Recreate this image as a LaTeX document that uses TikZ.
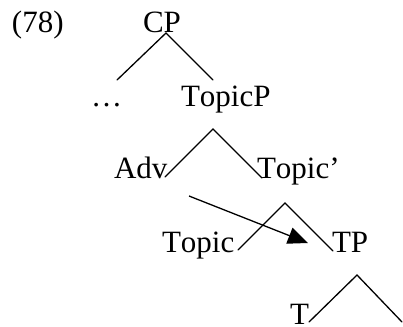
\documentclass[tikz,border=0pt]{standalone}
\usepackage{fontspec}
\setmainfont[Kerning=Off]{Liberation Serif}
\usetikzlibrary{arrows.meta}
\begin{document}
\begin{tikzpicture}[x=1pt,y=-1pt,
  lbl/.style={anchor=base west,inner sep=0pt,outer sep=0pt,font=\fontsize{31}{37}\selectfont},
  branch/.style={line width=1.3pt,line cap=round,line join=miter},
  mv/.style={line width=1.3pt,-{Triangle[length=20pt,width=17pt]}}]
\useasboundingbox (0,0) rectangle (403,326);
% labels
\node[lbl] (ex) at (12,33) {(78)};
\node[lbl] (cp) at (143,33) {CP};
\node[lbl] (dots) at (91,106) {…};
\node[lbl] (topicp) at (181,106) {TopicP};
\node[lbl] (adv) at (114,178) {Adv};
\node[lbl] (topicbar) at (257,178) {Topic’};
\node[lbl] (topic) at (162,252) {Topic};
\node[lbl] (tp) at (332,252) {TP};
\node[lbl] (t) at (290,324) {T};
% branch points
\coordinate (cpA) at (166,33);
\coordinate (cpL) at (117,80);
\coordinate (cpR) at (213,80);
\coordinate (tpA) at (213,129);
\coordinate (tpL) at (165,177);
\coordinate (tpR) at (262,178);
\coordinate (tbA) at (285,203);
\coordinate (tbL) at (238,250);
\coordinate (tbR) at (333,251);
\coordinate (tA) at (357,275);
\coordinate (tL) at (309,322);
\coordinate (tR) at (402,322);
\coordinate (mvS) at (189,196);
\coordinate (mvE) at (308,243);
% branches
\draw[branch] (cpL) -- (cpA) -- (cpR);
\draw[branch] (tpL) -- (tpA) -- (tpR);
\draw[branch] (tbL) -- (tbA) -- (tbR);
\draw[branch] (tL) -- (tA) -- (tR);
% movement arrow
\draw[mv] (mvS) -- (mvE);
\end{tikzpicture}
\end{document}
